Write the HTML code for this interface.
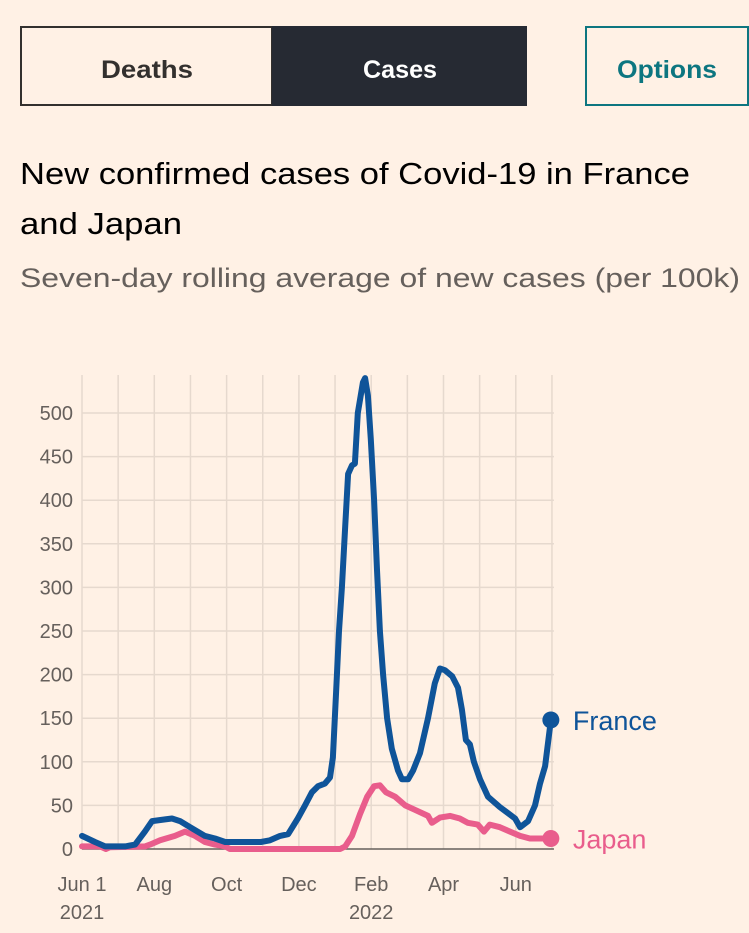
<!DOCTYPE html>
<html><head><meta charset="utf-8"><style>
html,body{margin:0;padding:0;background:#fff1e5;}
svg{display:block;font-family:"Liberation Sans",sans-serif;}
</style></head><body>
<svg id="c" width="749" height="933" viewBox="0 0 749 933">
<rect width="749" height="933" fill="#fff1e5"/>
<g>
<rect x="21" y="27" width="251" height="78" fill="#fff1e5" stroke="#33302e" stroke-width="2"/>
<text x="147" y="78" text-anchor="middle" font-size="25" font-weight="bold" fill="#33302e" textLength="92" lengthAdjust="spacingAndGlyphs">Deaths</text></g>
<g>
<rect x="272" y="26" width="255" height="80" fill="#262a33"/>
<text x="400" y="78" text-anchor="middle" font-size="25" font-weight="bold" fill="#fff" textLength="74" lengthAdjust="spacingAndGlyphs">Cases</text></g>
<g>
<rect x="586" y="27" width="162" height="78" fill="#fff1e5" stroke="#0d7680" stroke-width="2"/>
<text x="667" y="78" text-anchor="middle" font-size="25" font-weight="bold" fill="#0d7680" textLength="100" lengthAdjust="spacingAndGlyphs">Options</text></g>
<text x="20" y="184" font-size="31" fill="#000" textLength="670" lengthAdjust="spacingAndGlyphs">New confirmed cases of Covid-19 in France</text>
<text x="20" y="234" font-size="31" fill="#000" textLength="162" lengthAdjust="spacingAndGlyphs">and Japan</text>
<text x="20" y="287" font-size="27" fill="#66605c" textLength="720" lengthAdjust="spacingAndGlyphs">Seven-day rolling average of new cases (per 100k)</text>
<g id="plot"></g>
</svg>
<script>
const yTicks=[0,50,100,150,200,250,300,350,400,450,500];
const xTickMonths=[0,2,4,6,8,10,12];
const xTickLabels=["Jun 1","Aug","Oct","Dec","Feb","Apr","Jun"];
const xTickYears=["2021","","","","2022","",""];
const franceMonths=[0,0.36,0.64,1.19,1.47,1.74,1.94,2.3,2.49,2.71,2.99,3.4,3.68,3.96,4.95,5.2,5.48,5.7,5.97,6.17,6.36,6.53,6.72,6.86,6.94,7.03,7.11,7.19,7.28,7.36,7.47,7.55,7.63,7.77,7.83,7.91,7.99,8.08,8.16,8.24,8.33,8.44,8.57,8.74,8.85,9.02,9.16,9.35,9.57,9.76,9.9,10.04,10.24,10.4,10.51,10.62,10.73,10.84,11.01,11.23,11.56,11.98,12.12,12.34,12.53,12.67,12.81,12.97];
const franceValues=[15,8,3,3,5,20,32,34,35,32,25,15,12,8,8,10,15,17,35,50,65,72,75,82,105,180,250,300,370,430,440,442,500,535,540,520,470,400,320,250,200,150,115,90,80,80,90,110,150,190,207,205,198,185,160,125,120,100,80,60,48,35,25,32,50,75,95,148];
const japanMonths=[0,0.5,0.66,0.77,1.74,1.88,2.16,2.57,2.85,3.13,3.4,3.68,3.96,4.09,7.14,7.28,7.47,7.69,7.89,8.08,8.24,8.41,8.66,8.94,9.21,9.57,9.68,9.9,10.18,10.45,10.67,10.95,11.12,11.28,11.56,11.84,12.12,12.39,12.97];
const japanValues=[3,3,0,2,3,5,10,15,20,15,8,5,3,0,0,3,15,40,60,72,73,65,60,50,45,38,30,36,38,35,30,28,20,28,25,20,15,12,12];

const NS="http://www.w3.org/2000/svg";
const plot=document.getElementById('plot');
const X0=82,MW=36.15,Y0=849,YS=436/500;
const xs=m=>X0+m*MW, ys=v=>Y0-v*YS;
function mk(tag,attrs){const e=document.createElementNS(NS,tag);for(const k in attrs)e.setAttribute(k,attrs[k]);plot.appendChild(e);return e;}
for(let m=0;m<=13;m++){
 const g=mk('line',{x1:xs(m),x2:xs(m),y1:375,y2:Y0,stroke:'#e6d9ce','stroke-width':1.5});
 
 
}
yTicks.forEach(v=>{
 if(v>0){const g=mk('line',{x1:X0,x2:xs(13)+2,y1:ys(v),y2:ys(v),stroke:'#e6d9ce','stroke-width':1.5});
 
 }
 const t=mk('text',{x:73,y:ys(v)+7,'text-anchor':'end','font-size':20,fill:'#66605c'});
 t.textContent=v;
 
 
});
const base=mk('line',{x1:X0,x2:xs(13)+2,y1:Y0,y2:Y0,stroke:'#66605c','stroke-width':1.5});


xTickMonths.forEach((m,i)=>{
 const t=mk('text',{x:xs(m),y:891,'text-anchor':'middle','font-size':20,fill:'#66605c'});
 t.textContent=xTickLabels[i];
 
 
 if(xTickYears[i]){const y=mk('text',{x:xs(m),y:919,'text-anchor':'middle','font-size':20,fill:'#66605c'});
 y.textContent=xTickYears[i];
 
 }
});
function series(ms,vs,color,name,label){
 const d=ms.map((m,i)=>(i?'L':'M')+xs(m).toFixed(1)+','+ys(vs[i]).toFixed(1)).join('');
 const p=mk('path',{d:d,fill:'none',stroke:color,'stroke-width':6,'stroke-linejoin':'round','stroke-linecap':'round'});
 
 
 const lm=ms[ms.length-1],lv=vs[vs.length-1];
 const c=mk('circle',{cx:xs(lm),cy:ys(lv),r:8.5,fill:color});
 
 
 const t=mk('text',{x:xs(lm)+22,y:ys(lv)+10,'font-size':27,fill:color});
 t.textContent=label;
 
 
}
series(japanMonths,japanValues,'#e95d8c','japan','Japan');
series(franceMonths,franceValues,'#0f5499','france','France');
</script>
</body></html>
